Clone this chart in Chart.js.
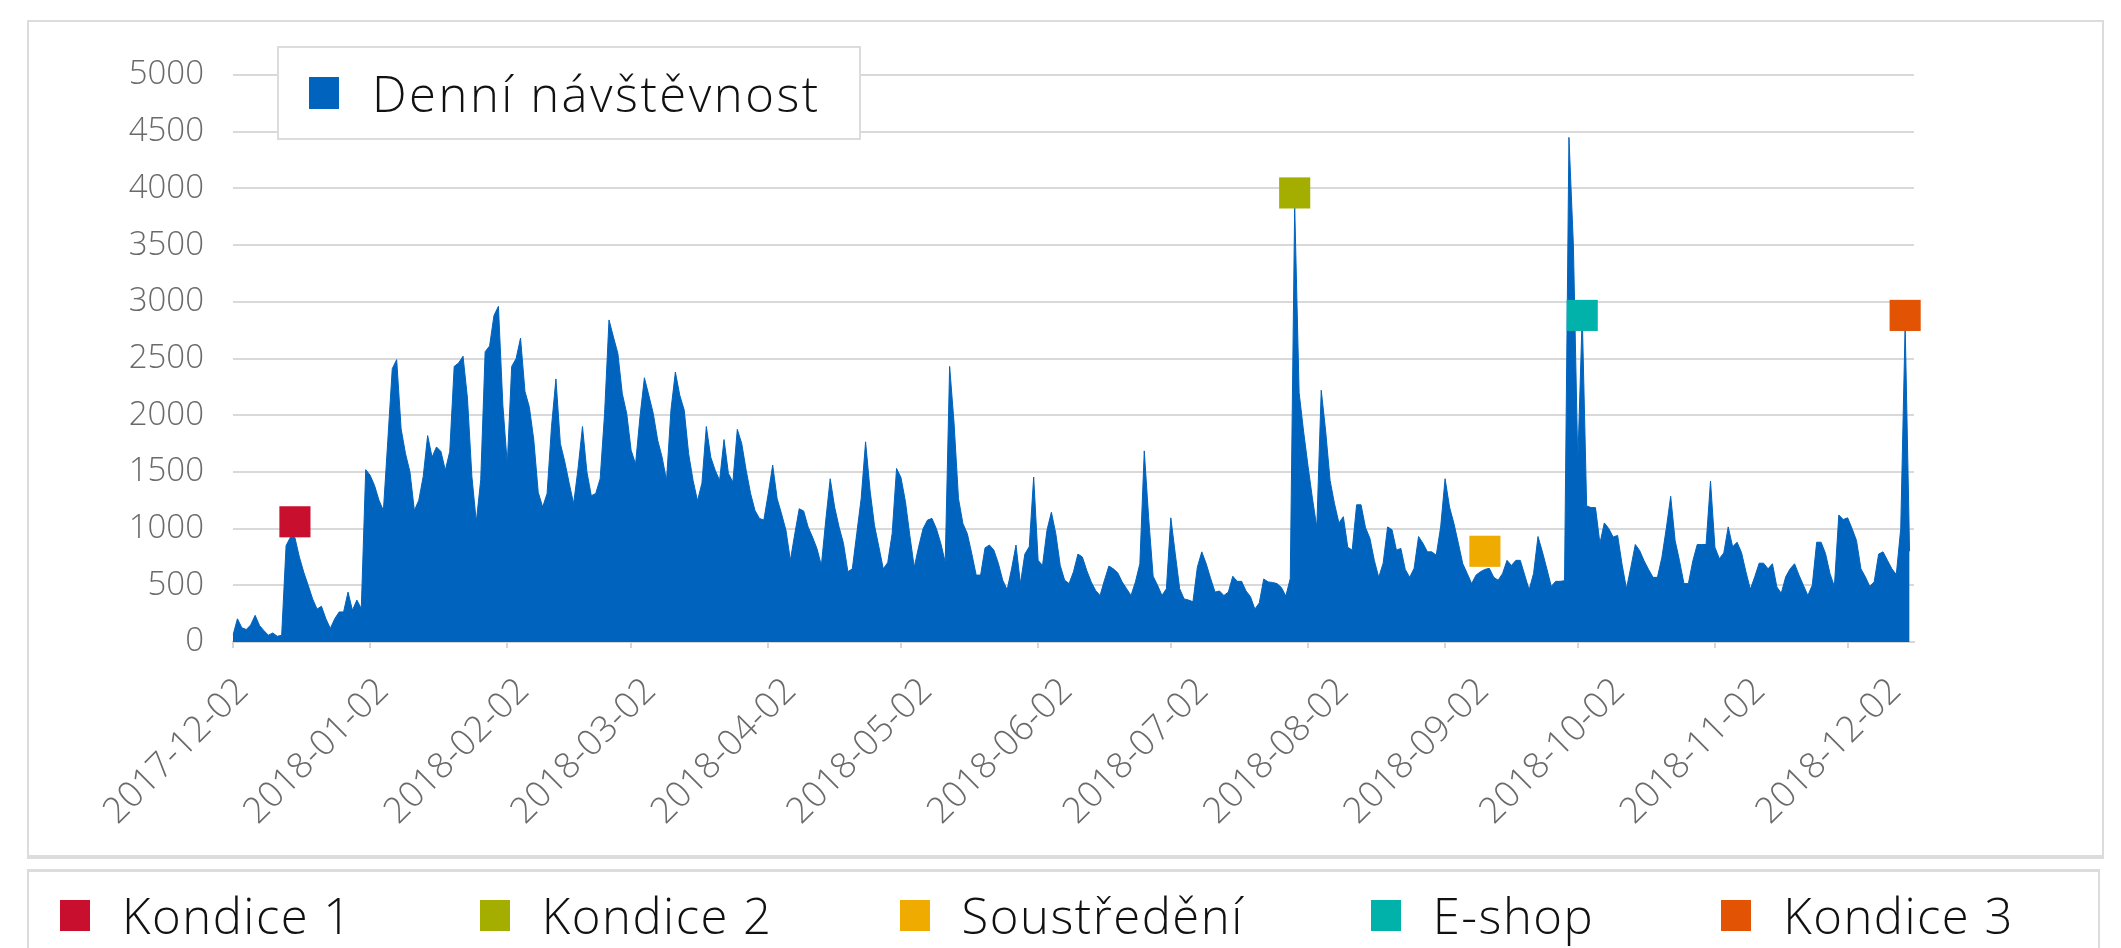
<!DOCTYPE html>
<html>
<head>
<meta charset="utf-8">
<script src="https://cdn.jsdelivr.net/npm/chart.js@4.4.1/dist/chart.umd.min.js"></script>
<style>
  body { margin: 0; width: 2121px; height: 948px; overflow: hidden; background: #fff; font-family: "Open Sans", Lato, sans-serif; font-weight: 300; }
  #chartBox { position: absolute; left: 27px; top: 20px; width: 2073px; height: 833px; border: 2px solid #dcdcdc; border-bottom-width: 4px; }
  #visitsCanvas { position: absolute; left: 0; top: 0; z-index: 1; }
  #seriesLegend { position: absolute; z-index: 2; left: 277px; top: 46px; width: 584px; height: 94px; border: 2px solid #dcdcdc; background: #fff; display: flex; align-items: center; box-sizing: border-box; white-space: nowrap; }
  #seriesLegend .swatch { width: 30px; height: 32px; margin-left: 30px; margin-right: 33px; flex: none; }
  #seriesLegend span { font-size: 49px; color: #111; line-height: 1; letter-spacing: 2.5px; }
  #markerLegend { position: absolute; left: 27px; top: 869px; width: 2073px; height: 120px; border: 2px solid #dcdcdc; border-top-width: 3px; display: flex; align-items: center; padding-left: 31px; box-sizing: border-box; padding-bottom: 28px; white-space: nowrap; }
  .item { display: flex; align-items: center; margin-right: 127px; flex: none; }
  .item .swatch { width: 30px; height: 31px; margin-right: 32px; flex: none; }
  .item span { font-size: 49px; color: #111; line-height: 1; letter-spacing: 1.5px; }
</style>
</head>
<body>
<div id="chartBox"></div>
<canvas id="visitsCanvas" width="2121" height="860"></canvas>
<div id="seriesLegend"><div class="swatch" id="seriesSwatch"></div><span id="seriesName"></span></div>
<div id="markerLegend"></div>
<script>
// daily visits from 2017-12-02, one value per day
const startDate = "2017-12-02";
const dailyVisits = [
  60, 205, 125, 110, 150, 235, 145, 100, 60, 80,
  50, 60, 850, 925, 920, 750, 615, 500, 380, 290,
  315, 205, 120, 205, 265, 265, 440, 280, 370, 295,
  1520, 1470, 1380, 1250, 1160, 1780, 2410, 2490, 1880, 1660,
  1500, 1160, 1250, 1460, 1820, 1630, 1720, 1680, 1515, 1680,
  2430, 2460, 2520, 2150, 1460, 1060, 1430, 2560, 2610, 2880,
  2960, 2090, 1570, 2430, 2500, 2680, 2210, 2070, 1780, 1320,
  1190, 1310, 1900, 2320, 1750, 1590, 1400, 1220, 1530, 1900,
  1500, 1290, 1310, 1440, 2015, 2840, 2690, 2545, 2190, 2015,
  1690, 1570, 1985, 2330, 2175, 2015, 1780, 1630, 1425, 2045,
  2380, 2175, 2045, 1660, 1425, 1245, 1400, 1900, 1630, 1515,
  1425, 1785, 1485, 1410, 1875, 1750, 1515, 1310, 1160, 1090,
  1075, 1310, 1560, 1265, 1130, 985, 720, 955, 1175, 1155,
  1015, 925, 825, 675, 1075, 1440, 1190, 1015, 870, 620,
  645, 955, 1265, 1765, 1340, 1030, 840, 645, 700, 955,
  1530, 1450, 1240, 940, 660, 840, 1000, 1075, 1090, 1000,
  870, 705, 2430, 1930, 1265, 1045, 955, 780, 590, 590,
  830, 855, 810, 695, 545, 460, 645, 855, 515, 775,
  840, 1455, 720, 675, 985, 1145, 955, 675, 545, 515,
  620, 775, 750, 630, 530, 455, 410, 545, 670, 645,
  610, 530, 470, 410, 530, 690, 1685, 1090, 580, 500,
  410, 470, 1095, 780, 470, 380, 370, 355, 660, 795,
  690, 560, 440, 450, 410, 440, 580, 535, 535, 450,
  400, 290, 345, 555, 530, 525, 515, 480, 405, 560,
  3850, 2200, 1860, 1555, 1270, 1010, 2220, 1860, 1425, 1220,
  1050, 1105, 835, 810, 1210, 1210, 1010, 915, 720, 570,
  695, 1015, 990, 810, 825, 640, 570, 650, 930, 870,
  795, 795, 765, 1015, 1440, 1190, 1045, 870, 690, 605,
  515, 590, 620, 640, 650, 570, 545, 605, 720, 675,
  720, 720, 590, 460, 605, 930, 795, 645, 490, 535,
  535, 540, 4450, 3500, 1590, 2880, 1200, 1185, 1185, 870,
  1050, 1000, 925, 940, 685, 470, 660, 860, 805, 715,
  640, 570, 570, 745, 1000, 1285, 895, 715, 515, 515,
  715, 860, 860, 860, 1420, 835, 735, 785, 1015, 840,
  880, 790, 620, 465, 575, 695, 695, 645, 690, 485,
  430, 575, 645, 690, 590, 500, 410, 500, 880, 880,
  780, 605, 490, 1120, 1080, 1095, 1000, 895, 645, 575,
  490, 530, 775, 795, 720, 645, 595, 1000, 2800, 800
];
const seriesName = "Denní návštěvnost";
const seriesColor = "#0064BE";

const markerNames = ["Kondice 1", "Kondice 2", "Soustředění", "E-shop", "Kondice 3"];
const markerDates = ["2017-12-16", "2018-07-30", "2018-09-11", "2018-10-03", "2018-12-15"];
const markerValues = [1060, 3960, 800, 2880, 2880];
const markerColors = ["#C8102E", "#A4AE00", "#F0AB00", "#00B2A9", "#E25303"];

const yMax = 5000;
const yStep = 500;

function buildDateLabels(start, count) {
  const labels = [];
  const d = new Date(start + "T00:00:00Z");
  for (let i = 0; i < count; i++) {
    labels.push(d.toISOString().slice(0, 10));
    d.setUTCDate(d.getUTCDate() + 1);
  }
  return labels;
}

// one extra day so the axis runs a little past the last value
const dateLabels = buildDateLabels(startDate, dailyVisits.length + 1);
const isMonthTick = (label) => label.endsWith("-02");
const monthTickIndex = [];
dateLabels.forEach((label, i) => { if (isMonthTick(label)) monthTickIndex.push(i); });

document.getElementById("seriesSwatch").style.background = seriesColor;
document.getElementById("seriesName").textContent = seriesName;

const markerLegend = document.getElementById("markerLegend");
for (let i = 0; i < markerNames.length; i++) {
  const item = document.createElement("div");
  item.className = "item";
  item.innerHTML = '<div class="swatch" style="background:' + markerColors[i] + '"></div><span>' + markerNames[i] + '</span>';
  markerLegend.appendChild(item);
}

const dataSets = [];
for (let i = 0; i < markerNames.length; i++) {
  dataSets.push({
    label: markerNames[i],
    data: [{ x: markerDates[i], y: markerValues[i] }],
    showLine: false,
    pointStyle: "rect",
    pointRadius: 22,
    pointHoverRadius: 22,
    backgroundColor: markerColors[i],
    borderWidth: 0,
    order: 0
  });
}
dataSets.push({
  label: seriesName,
  data: dailyVisits,
  fill: "origin",
  backgroundColor: seriesColor,
  borderColor: seriesColor,
  borderWidth: 1,
  pointRadius: 0,
  tension: 0,
  order: 10
});

const tickColor = "#6a6a6a";
const tickFont = { family: "'Open Sans', Lato", weight: 300, size: 33 };

new Chart("visitsCanvas", {
  type: "line",
  data: {
    labels: dateLabels,
    datasets: dataSets
  },
  options: {
    responsive: false,
    devicePixelRatio: 1,
    animation: false,
    layout: { padding: { left: 0, right: 207, top: 75, bottom: 0 } },
    plugins: {
      legend: { display: false },
      tooltip: { enabled: false }
    },
    scales: {
      // day axis: carries the data and the small monthly tick marks
      x: {
        weight: 0,
        afterFit: (scale) => { scale.height = 8; },
        grid: { drawOnChartArea: false, drawTicks: true, tickLength: 6, color: "#d6d6d6", lineWidth: 2 },
        border: { display: true, color: "#d6d6d6", width: 2 },
        ticks: {
          autoSkip: false,
          display: false,
          callback: function (value) {
            const label = this.getLabelForValue(value);
            return isMonthTick(label) ? label : null;
          }
        }
      },
      // month labels, spread a little wider than the tick marks as in the original
      monthLabels: {
        type: "linear",
        position: "bottom",
        weight: 1,
        min: -2.16,
        max: 369.1,
        afterFit: (scale) => { scale.height = 210; },
        afterBuildTicks: (scale) => { scale.ticks = monthTickIndex.map((v) => ({ value: v })); },
        grid: { display: false, drawTicks: false },
        border: { display: false },
        ticks: {
          autoSkip: false,
          minRotation: 45,
          maxRotation: 45,
          padding: 20,
          color: tickColor,
          font: { family: "'Open Sans', Lato", weight: 300, size: 36 },
          callback: (value) => dateLabels[value]
        }
      },
      y: {
        min: 0,
        max: yMax,
        afterFit: (scale) => { scale.width = 233; },
        grid: { drawTicks: false, color: "#d9d9d9", lineWidth: 2 },
        border: { display: false },
        ticks: {
          stepSize: yStep,
          padding: 29,
          color: tickColor,
          font: tickFont,
          callback: (value) => String(value)
        }
      }
    }
  }
});
</script>
</body>
</html>
